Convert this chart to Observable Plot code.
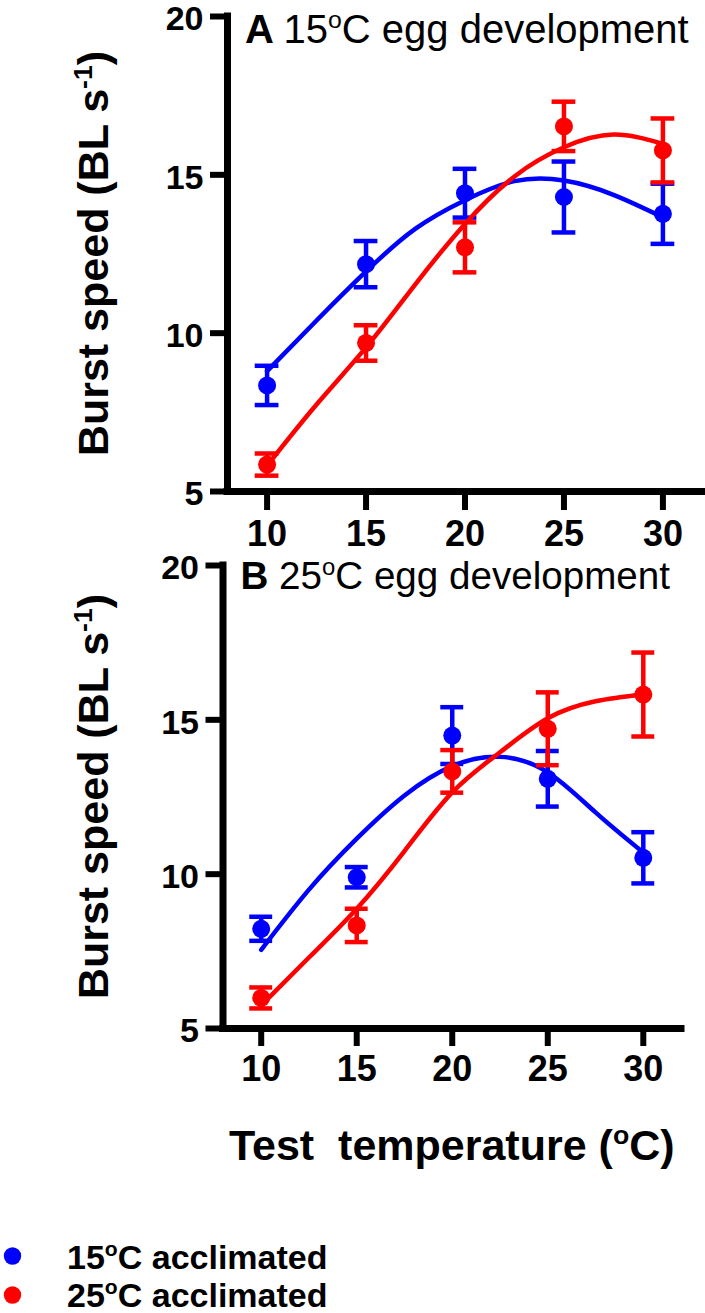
<!DOCTYPE html>
<html><head><meta charset="utf-8">
<script src="https://cdn.jsdelivr.net/npm/d3@7"></script>
<script src="https://cdn.jsdelivr.net/npm/@observablehq/plot@0.6"></script>
<style>
body{margin:0;background:#fff;}
#wrap{width:705px;height:1313px;position:relative;overflow:hidden;font-family:"Liberation Sans",Arial,sans-serif;background:#fff;}
#wrap svg{display:block;}
</style></head><body><div id="wrap"></div>
<script>
// ---------- data ----------
const temps = [10, 15, 20, 25, 30];
const xTicks = [10, 15, 20, 25, 30];
const yTicks = [5, 10, 15, 20];
const seriesNames = ["15", "25"];          // acclimation temperature (°C)
const seriesColors = ["#0000ff", "#ff0000"];
const panelLetters = ["A", "B"];
const panelEggTemps = ["15", "25"];

// Panel A: 15°C egg development  (mean ± SE)
const aBlueMean = [8.35, 12.18, 14.42, 14.30, 13.77];
const aBlueSE   = [0.62, 0.73, 0.77, 1.12, 0.95];
const aRedMean  = [5.85, 9.69, 12.71, 16.53, 15.77];
const aRedSE    = [0.35, 0.56, 0.79, 0.78, 1.01];
// Panel B: 25°C egg development
const bBlueMean = [8.23, 9.90, 14.49, 13.09, 10.53];
const bBlueSE   = [0.39, 0.33, 0.92, 0.90, 0.83];
const bRedMean  = [5.99, 8.34, 13.33, 14.71, 15.82];
const bRedSE    = [0.34, 0.54, 0.69, 1.18, 1.36];

// fitted curves
const fitTemps = [10, 12.5, 15, 17.5, 20, 22.5, 25, 27.5, 30];
const aBlueFit = [8.8, 10.4, 11.95, 13.3, 14.2, 14.8, 14.82, 14.37, 13.66];
const aRedFit  = [5.82, 7.75, 9.55, 11.55, 13.45, 14.95, 15.87, 16.27, 15.98];
const bBlueFit = [7.55, 9.5, 11.15, 12.55, 13.5, 13.8, 13.3, 12.0, 10.7];
const bRedFit  = [5.75, 7.3, 8.88, 10.75, 12.65, 13.95, 15.05, 15.6, 15.82];

// ---------- helpers ----------
const FONT = "Liberation Sans, Arial, sans-serif";
const pts = (means, ses) => temps.map((t, i) => ({t, m: means[i], lo: means[i] - ses[i], hi: means[i] + ses[i]}));
const fit = (vals) => fitTemps.map((t, i) => ({t, v: vals[i]}));

function rich(sel, x, y, size, parts, opts = {}) {
  const t = sel.append("text")
    .attr("x", x).attr("y", y)
    .attr("font-size", size)
    .attr("font-family", FONT)
    .attr("font-weight", opts.weight || "normal")
    .attr("fill", "black")
    .attr("text-anchor", opts.anchor || "start")
    .style("white-space", "pre");
  if (opts.rotate) t.attr("transform", `rotate(-90 ${x} ${y})`);
  let shift = 0;
  for (const p of parts) {
    const s = t.append("tspan").text(p.text);
    if (p.weight) s.attr("font-weight", p.weight);
    const target = p.sup ? -size * 0.37 : 0;
    if (p.sup) s.attr("font-size", size * 0.62);
    if (target !== shift) { s.attr("dy", target - shift); shift = target; }
  }
  return t;
}

const CAP = 0.6; // half width of error caps, in °C

function seriesMarks(rows, curve, color) {
  return [
    Plot.line(curve, {x: "t", y: "v", stroke: color, strokeWidth: 4.5, curve: "natural"}),
    Plot.ruleX(rows, {x: "t", y1: "lo", y2: "hi", stroke: color, strokeWidth: 4.5}),
    Plot.ruleY(rows, {y: "hi", x1: d => d.t - CAP, x2: d => d.t + CAP, stroke: color, strokeWidth: 4.5}),
    Plot.ruleY(rows, {y: "lo", x1: d => d.t - CAP, x2: d => d.t + CAP, stroke: color, strokeWidth: 4.5}),
    Plot.dot(rows, {x: "t", y: "m", r: 9, fill: color, stroke: "none"})
  ];
}

function panel(o) {
  const chart = Plot.plot({
    width: 705, height: o.height,
    marginLeft: o.ml, marginRight: o.mr, marginTop: o.mt, marginBottom: o.mb,
    x: {domain: [8, 32]},
    y: {domain: [5, 20]},
    style: {fontFamily: FONT, fontWeight: "bold", fontSize: "34px", background: "white", overflow: "visible", color: "black"},
    marks: [
      ...seriesMarks(o.blue, o.blueFit, seriesColors[0]),
      ...seriesMarks(o.red, o.redFit, seriesColors[1]),
      Plot.ruleX([8], {stroke: "black", strokeWidth: 7, strokeLinecap: "square"}),
      Plot.ruleY([5], {stroke: "black", strokeWidth: 7, strokeLinecap: "square"}),
      // y ticks (no labels)
      Plot.axisY({ticks: yTicks, tickSize: 17, strokeWidth: 6, label: null, tickFormat: () => ""}),
      // y tick labels, nudged slightly down as in the reference
      Plot.axisY({ticks: yTicks, tickSize: 0, tickPadding: 24, fontSize: 34, fontWeight: "bold", label: null, tickFormat: d => String(d), fill: "black", dy: 3}),
      Plot.axisX({ticks: xTicks, tickSize: o.xts, tickPadding: o.xtp, strokeWidth: 6, fontSize: 36, fontWeight: "bold", label: null, tickFormat: d => String(d), fill: "black"})
    ]
  });
  const svg = d3.select(chart);
  // panel title
  rich(svg, o.ml + o.titleDx, o.titleY, o.titleSize, [
    {text: o.letter + " ", weight: "bold"},
    {text: o.egg},
    {text: "o", sup: true},
    {text: "C egg development"}
  ]);
  // y-axis label
  const cy = (o.mt + (o.height - o.mb)) / 2;
  rich(svg, 108, cy, 43, [
    {text: "Burst speed (BL s"},
    {text: "-1", sup: true},
    {text: ")"}
  ], {weight: "bold", anchor: "middle", rotate: true});
  return chart;
}

const wrap = document.getElementById("wrap");

const chartA = panel({
  height: 552, ml: 227, mr: 3, mt: 16, mb: 61, xts: 19, xtp: 10,
  blue: pts(aBlueMean, aBlueSE), red: pts(aRedMean, aRedSE),
  blueFit: fit(aBlueFit), redFit: fit(aRedFit),
  letter: panelLetters[0], egg: panelEggTemps[0], titleDx: 18, titleY: 43, titleSize: 40
});
wrap.appendChild(chartA);

const chartB = panel({
  height: 628, ml: 222.5, mr: 24, mt: 13, mb: 152, xts: 18, xtp: 9,
  blue: pts(bBlueMean, bBlueSE), red: pts(bRedMean, bRedSE),
  blueFit: fit(bBlueFit), redFit: fit(bRedFit),
  letter: panelLetters[1], egg: panelEggTemps[1], titleDx: 18, titleY: 37, titleSize: 38.6
});
// x-axis title under panel B
{
  const svg = d3.select(chartB);
  const cx = (222.5 + (705 - 24)) / 2;
  rich(svg, cx, 608, 43, [
    {text: "Test\u00a0 temperature ("},
    {text: "o", sup: true},
    {text: "C)"}
  ], {weight: "bold", anchor: "middle"});
}
wrap.appendChild(chartB);

// ---------- legend ----------
const leg = d3.select(wrap).append("svg").attr("width", 705).attr("height", 133).style("display", "block");
seriesNames.forEach((name, i) => {
  leg.append("circle").attr("cx", 12.5).attr("cy", 76 + i * 39).attr("r", 8.7).attr("fill", seriesColors[i]);
  rich(leg, 67, 89 + i * 38, 34, [
    {text: name},
    {text: "o", sup: true},
    {text: "C acclimated"}
  ], {weight: "bold"});
});
</script>
</body></html>
